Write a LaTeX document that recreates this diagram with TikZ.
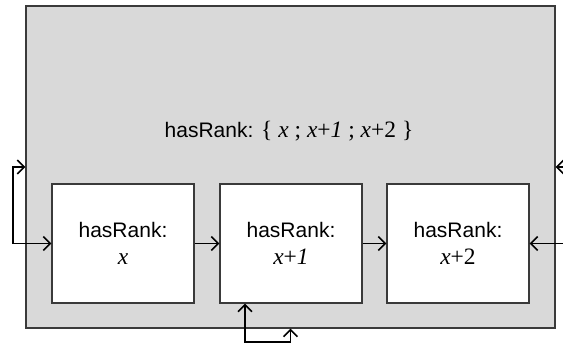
\documentclass[tikz,border=0pt]{standalone}
\usepackage{fontspec}
\setmainfont{Liberation Sans}
\newfontfamily\serfont{Liberation Serif}
\newcommand{\serx}{\serfont\fontsize{23.5}{28}\selectfont}
\usetikzlibrary{arrows.meta}
\definecolor{panel}{HTML}{D9D9D9}
\definecolor{edge}{HTML}{3A3A3A}
\tikzset{
  outerbox/.style={draw=edge, line width=1.2pt, fill=panel, minimum width=529pt, minimum height=322pt, inner sep=0pt},
  rankbox/.style={draw=edge, line width=1.2pt, fill=white, minimum width=142pt, minimum height=119pt, inner sep=0pt, align=center, font=\fontsize{21}{30}\selectfont},
  conn/.style={line width=1.6pt, arrows={-Straight Barb[length=7pt,width=14pt,line width=1.6pt]}},
  conn2/.style={line width=1.6pt, arrows={Straight Barb[length=7pt,width=14pt,line width=1.6pt]-Straight Barb[length=7pt,width=14pt,line width=1.6pt]}}
}
\begin{document}
\begin{tikzpicture}[x=1pt,y=-1pt]
\useasboundingbox (0,0) rectangle (563,345);
\node[outerbox] (outer) at (290.5,167) {};
\node[font=\fontsize{21}{25}\selectfont] (lbl) at (289,131) {hasRank: {\serx\{ \textit{x} ; \textit{x}+\textit{1} ; \textit{x}+2 \}}};
\node[rankbox] (b1) at (123,243.5) {hasRank:\\[-3pt]{\serx\textit{x}}};
\node[rankbox] (b2) at (291,243.5) {hasRank:\\[-3pt]{\serx\textit{x}+\textit{1}}};
\node[rankbox] (b3) at (458,243.5) {hasRank:\\[-3pt]{\serx\textit{x}+2}};
\coordinate (lx) at (13,0);
\coordinate (rtop) at (563,167);
\coordinate (rbot) at (563,243.5);
\coordinate (loopb) at (245,342);
\draw[conn] (b1.east) -- (b2.west);
\draw[conn] (b2.east) -- (b3.west);
\draw[conn2] (outer.west) -| (lx |- b1.west) -- (b1.west);
\draw[conn] (rtop) -- (outer.east);
\draw[conn] (rbot) -- (b3.east);
\draw[conn2] (b2.south -| loopb) -- (loopb) -| (outer.south);
\end{tikzpicture}
\end{document}
